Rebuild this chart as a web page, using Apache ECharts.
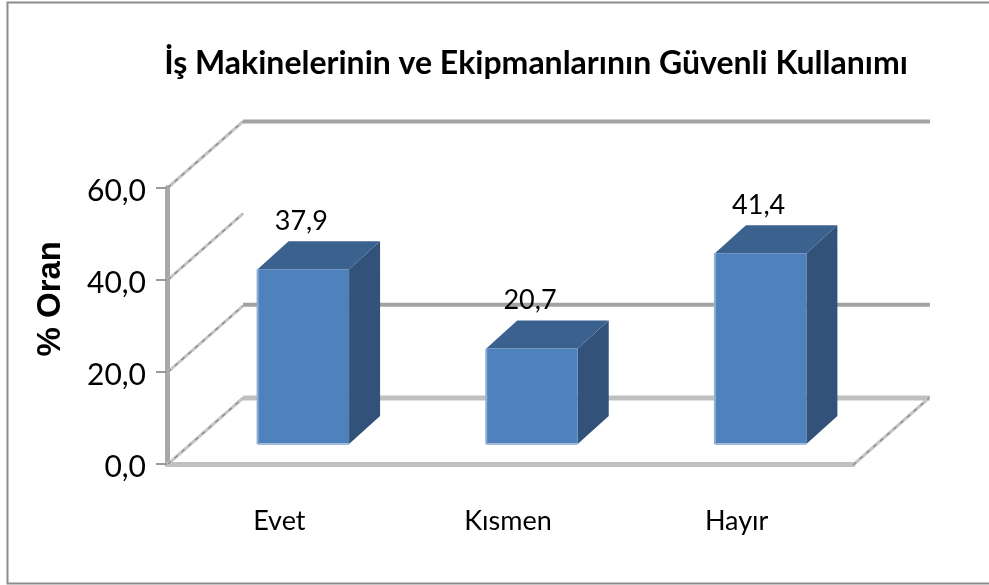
<!DOCTYPE html>
<html><head><meta charset="utf-8">
<style>html,body{margin:0;padding:0;background:#fff}#c{width:989px;height:585px}</style>
<script src="https://cdn.jsdelivr.net/npm/echarts@6/dist/echarts.min.js"></script>
</head><body><div id="c"></div>
<script>
var categories = ['Evet', 'Kısmen', 'Hayır'];
var values = [37.9, 20.7, 41.4];
var wallTicks = [0, 20, 40, 60];
var backLines = [0, 20, 60];
var titleText = 'İş Makinelerinin ve Ekipmanlarının Güvenli Kullanımı';
var yName = '% Oran';

var DX = 76, DY = 66;
var comma = function (v, d) { return v.toFixed(d).replace('.', ','); };
var chart = echarts.init(document.getElementById('c'), null, {renderer: 'canvas'});

function stroked(shape, color, w) {
  return {type: 'line', shape: shape, style: {stroke: color, lineWidth: w, fill: null}};
}
function diag(x1, y1, x2, y2) {
  var s = {x1: x1, y1: y1, x2: x2, y2: y2};
  return {type: 'group', children: [
    stroked(s, '#c6c6c6', 3),
    {type: 'line', shape: s, style: {stroke: '#858585', lineWidth: 1.2, lineDash: [4, 5], fill: null}}
  ]};
}
function renderWall(params, api) {
  var v = api.value(0), cs = params.coordSys;
  var p = api.coord([0, v]);
  var left = cs.x, right = cs.x + cs.width, y = p[1];
  var kids = [diag(left + 1, y, left + DX, y - DY)];
  if (backLines.indexOf(v) >= 0) {
    kids.push(stroked({x1: left + DX, y1: y - DY - (v === 20 ? 1 : 0), x2: right + DX + 1, y2: y - DY - (v === 20 ? 1 : 0)},
      v === 0 ? '#c0c0c0' : '#a2a2a2', v === 0 ? 5 : 4));
  }
  if (v === 0) kids.push(diag(right, y + 1, right + DX, y - DY));
  return {type: 'group', children: kids};
}
function renderBar(params, api) {
  var i = api.value(0), val = api.value(1);
  var top = api.coord([i, val]), base = api.coord([i, 0]);
  var w = api.size([1, 0])[0] * 0.4;
  var ox = 22, oy = -20, dx = 31, dy = 28;
  var x0 = top[0] + ox - w / 2, x1 = x0 + w, yT = top[1] + oy, yB = base[1] + oy;
  return {type: 'group', children: [
    {type: 'polygon', shape: {points: [[x1, yT], [x1 + dx, yT - dy], [x1 + dx, yB - dy], [x1, yB]]}, style: {fill: '#325279'}},
    {type: 'polygon', shape: {points: [[x0, yT], [x0 + dx, yT - dy], [x1 + dx, yT - dy], [x1, yT]]}, style: {fill: '#3b618f'}},
    {type: 'rect', shape: {x: x0, y: yT, width: w, height: yB - yT}, style: {fill: '#4f81bd'}},
    {type: 'rect', shape: {x: x0, y: yB - 1, width: w, height: 2}, style: {fill: '#a3bbdb'}},
    {type: 'rect', shape: {x: x0 - 1, y: yT, width: 2, height: yB - yT}, style: {fill: '#8fadd3'}},
    {type: 'text', style: {text: comma(val, 1), x: x0 + w / 2 - 2, y: yT - dy - 20, align: 'center', verticalAlign: 'middle',
      fill: '#000', font: '27px Lato'}}
  ]};
}

chart.setOption({
  animation: false,
  backgroundColor: '#fff',
  title: {text: titleText, left: 531, top: 43, textAlign: 'center',
    textStyle: {fontFamily: 'Lato', fontWeight: 'bold', fontSize: 32, color: '#000'}},
  grid: {left: 167, right: 136, top: 187.5, bottom: 121},
  xAxis: {type: 'category', data: categories,
    axisLine: {show: true, lineStyle: {color: '#c0c0c0', width: 5}},
    axisTick: {show: false},
    axisLabel: {margin: 44, padding: [0, 4, 0, 0], fontFamily: 'Lato', fontSize: 27, color: '#000'}},
  yAxis: {type: 'value', min: 0, max: 60, interval: 20,
    name: yName, nameLocation: 'middle', nameRotate: 90, nameGap: 100,
    nameTextStyle: {fontFamily: 'Liberation Sans', fontWeight: 'bold', fontSize: 33, color: '#000', padding: [0, 0, 0, 54]},
    axisLine: {show: true, lineStyle: {color: '#a8a8a8', width: 5}},
    axisTick: {show: true, length: 11, lineStyle: {color: '#999', width: 2}},
    axisLabel: {margin: 21, fontFamily: 'Lato', fontSize: 30, color: '#000',
      rich: {n: {fontFamily: 'Lato', fontSize: 30, color: '#000', padding: [7, 0, 0, 0]}},
      formatter: function (v) { return '{n|' + comma(v, 1) + '}'; }},
    splitLine: {show: false}},
  graphic: [{type: 'rect', shape: {x: 7.5, y: 2.5, width: 990, height: 581},
    style: {fill: null, stroke: '#8c8c8c', lineWidth: 2}, silent: true, z: -1}],
  series: [
    {type: 'custom', name: 'walls', data: wallTicks.map(function (v) { return [v]; }),
     renderItem: renderWall, encode: {y: 0}, silent: true, z: 1, clip: false},
    {type: 'custom', name: 'bars', data: values.map(function (v, i) { return [i, v]; }),
     renderItem: renderBar, encode: {x: 0, y: 1}, z: 3, clip: false}
  ]
});
</script></body></html>
